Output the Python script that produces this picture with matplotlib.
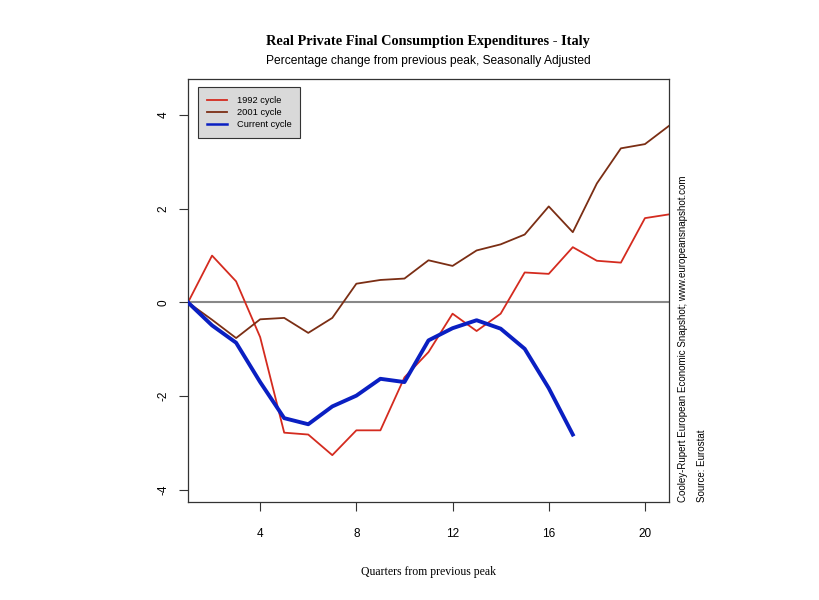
import matplotlib
matplotlib.use('Agg')
import matplotlib.pyplot as plt

# quarters from previous peak
quarters = list(range(1, 22))
quarters_current = list(range(1, 18))

cycle_1992 = [0.0, 1.00, 0.45, -0.74, -2.78, -2.82, -3.26, -2.73, -2.73, -1.60,
              -1.06, -0.24, -0.61, -0.24, 0.64, 0.61, 1.18, 0.89, 0.85, 1.80, 1.88]
cycle_2001 = [0.0, -0.37, -0.76, -0.36, -0.33, -0.65, -0.33, 0.40, 0.48, 0.51,
              0.90, 0.78, 1.11, 1.24, 1.45, 2.05, 1.50, 2.54, 3.29, 3.38, 3.77]
cycle_current = [0.0, -0.49, -0.86, -1.70, -2.47, -2.60, -2.22, -1.99, -1.63, -1.70,
                 -0.81, -0.55, -0.38, -0.56, -0.99, -1.83, -2.82]

x_ticks = [4, 8, 12, 16, 20]
y_ticks = [-4, -2, 0, 2, 4]

sans = ['Liberation Sans', 'DejaVu Sans']
serif = ['Liberation Serif', 'DejaVu Serif']

fig = plt.figure(figsize=(8.2, 6.0), dpi=100)
ax = fig.add_axes([188/820, 1 - 502/600, (669 - 188)/820, (502 - 79)/600])

ax.axhline(0, color='#888888', lw=1.5, zorder=1)
ax.plot(quarters, cycle_1992, color='#d42b1f', lw=1.3, label='1992 cycle', zorder=2)
ax.plot(quarters, cycle_2001, color='#7b2e14', lw=1.3, label='2001 cycle', zorder=2)
ax.plot(quarters_current, cycle_current, color='#0a1fc2', lw=2.8, label='Current cycle', zorder=3)

ax.set_xlim(1, 21)
ax.set_ylim(-4.26, 4.77)
ax.set_xticks(x_ticks)
ax.set_yticks(y_ticks)
ax.set_yticklabels([str(v) for v in y_ticks], rotation=90, va='center')
ax.tick_params(direction='out', length=6.5, width=0.8, labelsize=8.5, color='#333333')
ax.tick_params(axis='x', pad=12)
ax.tick_params(axis='y', pad=7)
for lab in ax.get_xticklabels() + ax.get_yticklabels():
    lab.set_family(sans)
for sp in ax.spines.values():
    sp.set_color('#333333')
    sp.set_linewidth(0.9)

leg = ax.legend(loc='upper left', bbox_to_anchor=(10/481, 1 - 8/423), borderaxespad=0,
                prop={'family': sans, 'size': 6.7},
                frameon=True, fancybox=False, facecolor='#d9d9d9', edgecolor='#333333',
                framealpha=1, handlelength=2.2, borderpad=0.95, labelspacing=0.35, handletextpad=1.0)
leg.get_frame().set_linewidth(0.8)
for h in leg.legend_handles:
    h.set_linewidth(min(h.get_linewidth(), 1.8))

fig.text(0.522, 1 - 41/600, 'Real Private Final Consumption Expenditures - Italy', ha='center', va='center',
         family=serif, fontweight='bold', fontsize=10.3)
fig.text(0.522, 1 - 61/600, 'Percentage change from previous peak, Seasonally Adjusted', ha='center', va='center',
         family=sans, fontsize=8.65)
fig.text(0.522, 1 - 572/600, 'Quarters from previous peak', ha='center', va='center',
         family=serif, fontsize=8.5)
fig.text(683/820, 1 - 502/600, 'Cooley-Rupert European Economic Snapshot; www.europeansnapshot.com',
         rotation=90, ha='center', va='bottom', family=sans, fontsize=7)
fig.text(702/820, 1 - 502/600, 'Source: Eurostat',
         rotation=90, ha='center', va='bottom', family=sans, fontsize=7)

fig.savefig('out.png', dpi=100)
